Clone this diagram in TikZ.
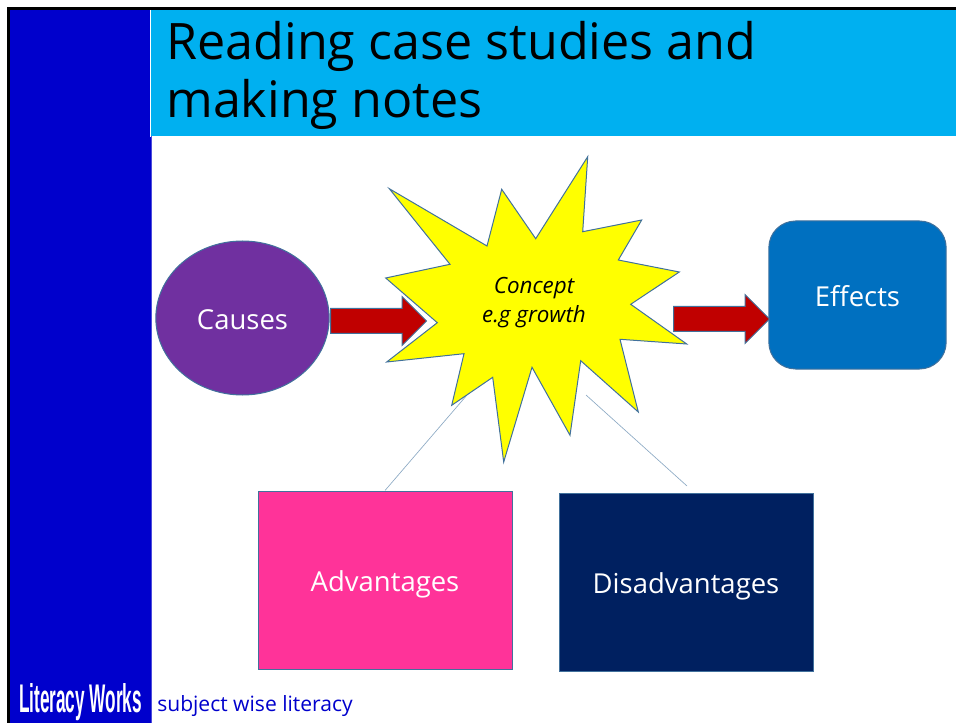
\documentclass[tikz,border=0pt]{standalone}
\usepackage{fontspec}
\setmainfont{Open Sans}
\newfontfamily\logofont{Liberation Sans}
\usetikzlibrary{shapes.geometric, shapes.arrows}
\definecolor{cframe}{HTML}{0000CC}
\definecolor{ctitle}{HTML}{00B0F0}
\definecolor{cedge}{HTML}{41719C}
\definecolor{ccause}{HTML}{7030A0}
\definecolor{ceffect}{HTML}{0070C0}
\definecolor{cplus}{HTML}{FF3399}
\definecolor{cminus}{HTML}{002060}
\definecolor{carrow}{HTML}{C00000}
\definecolor{cstar}{HTML}{FFFF00}
\tikzset{
	box/.style={draw=cedge, line width=.75pt, text=white, font=\fontsize{20.6}{24}\selectfont, inner sep=0pt, text height=16.8pt, text depth=0pt},
	blockarrow/.style={single arrow, draw=cedge, line width=.75pt, fill=carrow, inner sep=0pt, text height=18pt, text depth=0pt,
		minimum height=72pt, minimum width=36pt, single arrow head extend=9pt, anchor=tail},
	thinline/.style={draw=cedge!60, line width=.5pt}
}

\begin{document}
\begin{tikzpicture}[x=.75pt, y=-.75pt]
    \useasboundingbox(0, 0) rectangle (956, 723);
    % frame and title band
    \fill[cframe](9, 9) rectangle (151, 723);
    \draw[black, line width=2pt](8.6, 723)--(8.6, 8.6)--(956, 8.6);
    \draw[cframe!70!white, line width=.6pt](151.3, 136)--(151.3, 723);
    \fill[ctitle](150, 10) rectangle (956, 136.5);
    \draw[white, line width=.6pt](150, 10)--(150, 137);
    \node[anchor=north west, align=left, inner sep=0pt, font=\fontsize{37.7}{43.5}\selectfont](title)at(166, 21){Reading case studies and\\making notes};
    % boxes
    \node[box, ellipse, fill=ccause, minimum width=130pt, minimum height=115.5pt](causes)at(242.5, 318){Causes};
    \node[box, rectangle, rounded corners=20pt, fill=ceffect, minimum width=133pt, minimum height=111pt](effects)at(857.5, 295){Effects};
    \node[box, rectangle, fill=cplus, minimum width=190.5pt, minimum height=133.5pt](advantages)at(385, 580){Advantages};
    \node[box, rectangle, fill=cminus, minimum width=190.5pt, minimum height=133.5pt](disadvantages)at(686, 582){Disadvantages};
    % lines from the star
    \coordinate(leftend)at(467, 395);
    \coordinate(rightend)at(586, 395);
    \coordinate(rightfoot)at(687, 486);
    \draw[thinline](leftend)--(advantages.north);
    \draw[thinline](rightend)--(rightfoot);
    % star
    \draw[cedge, line width=.75pt, fill=cstar, line join=miter](587.7, 156.7)--(582.7, 231.7)--(641.7, 220)--(618.3, 260)--(679.3, 272)--(630.7, 304.3)--(686.7, 344)--(620, 339.3)--(638.3, 412)--(580.7, 360.7)--(570, 435.3)--(532, 367.3)--(503.7, 462)--(492.7, 377.3)--(451.7, 405.3)--(464, 353.7)--(386.7, 362)--(437.3, 322.7)--(385.7, 278)--(450, 264.3)--(389.3, 188.7)--(487, 246)--(501.7, 189.3)--(535.7, 238.7)--cycle;
    \node[align=center, inner sep=0pt, font=\fontsize{16.8}{21.8}\selectfont\itshape](concept)at(534, 303){Concept\\e.g growth};
    % arrows
    \node[blockarrow](inarrow)at(330, 321){};
    \node[blockarrow](outarrow)at(673, 319){};
    % footer
    \node[anchor=base west, inner sep=0pt, text=white, xscale=.43, font=\fontsize{30}{30}\logofont\bfseries](logo)at(19, 712){Literacy Works};
    \node[anchor=west, inner sep=0pt, text=cframe, font=\fontsize{15.8}{18}\selectfont](tagline)at(157, 706){subject wise literacy};
\end{tikzpicture}
\end{document}
